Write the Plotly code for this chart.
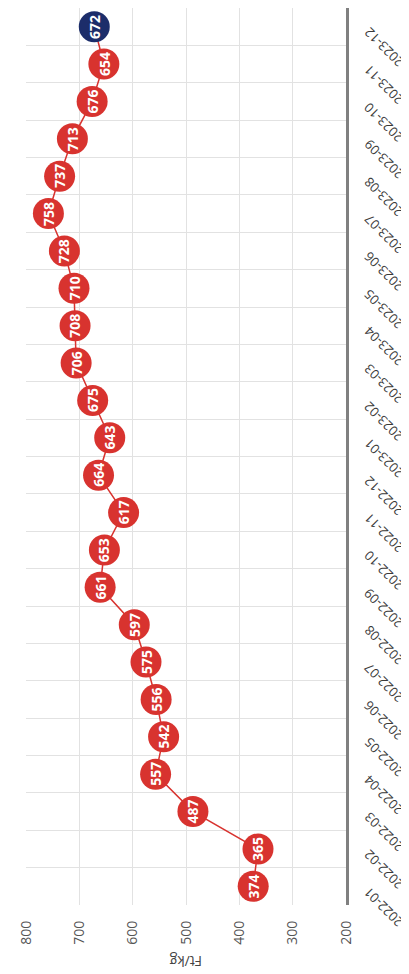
import plotly.graph_objs as go

# havi átlagár, Ft/kg
months = ['2022-01', '2022-02', '2022-03', '2022-04', '2022-05', '2022-06',
          '2022-07', '2022-08', '2022-09', '2022-10', '2022-11', '2022-12',
          '2023-01', '2023-02', '2023-03', '2023-04', '2023-05', '2023-06',
          '2023-07', '2023-08', '2023-09', '2023-10', '2023-11', '2023-12']
prices = [374, 365, 487, 557, 542, 556, 575, 597, 661, 653, 617, 664,
          643, 675, 706, 708, 710, 728, 758, 737, 713, 676, 654, 672]
value_ticks = [200, 300, 400, 500, 600, 700, 800]

RED = '#d8332f'
NAVY = '#1c2d6a'
FONT = 'Open Sans'

colors = [RED] * (len(prices) - 1) + [NAVY]

fig = go.Figure()
fig.add_trace(go.Scatter(
    x=prices,
    y=months,
    mode='lines+markers',
    line=dict(color=RED, width=1.5),
    marker=dict(size=31, color=colors, line=dict(width=0)),
    hoverinfo='skip',
    showlegend=False
))

# a kép 90°-kal el van forgatva, ezért minden felirat elforgatva
annotations = []
for v, m in zip(prices, months):
    annotations.append(dict(
        x=v, y=m, xref='x', yref='y',
        text='<b>%d</b>' % v, showarrow=False, textangle=-90,
        font=dict(color='white', size=14, family=FONT)
    ))
    # hónap feliratok (fejjel lefelé, átlósan)
    annotations.append(dict(
        x=1.0, y=m, xref='paper', yref='y', xshift=38, yshift=-21,
        text=m, showarrow=False, textangle=-135,
        xanchor='center', yanchor='middle',
        font=dict(color='#3a3a3a', size=13, family=FONT)
    ))
annotations.append(dict(
    x=0.5, y=-0.063, xref='paper', yref='paper',
    text='Ft/kg', showarrow=False, textangle=180,
    xanchor='center', yanchor='middle',
    font=dict(color='#444', size=14, family=FONT)
))

fig.update_layout(
    width=409, height=974,
    margin={'l': 18, 'r': 71, 't': 0, 'b': 77},
    plot_bgcolor='white',
    paper_bgcolor='white',
    font=dict(family=FONT, color='#555', size=14),
    annotations=annotations,
    xaxis=dict(
        range=[800, 200],
        tickvals=value_ticks,
        tickangle=-90,
        showgrid=True, gridcolor='#e2e2e2', gridwidth=1,
        zeroline=False, showline=False,
        ticks='', ticklabelstandoff=12
    ),
    yaxis=dict(
        type='category',
        categoryorder='array', categoryarray=months,
        range=[-0.5, len(months) - 0.5],
        tickson='boundaries',
        showticklabels=False,
        side='right',
        showgrid=True, gridcolor='#e2e2e2', gridwidth=1,
        showline=True, linecolor='#808080', linewidth=3,
        zeroline=False, ticks=''
    )
)

fig.write_html("out.html")
